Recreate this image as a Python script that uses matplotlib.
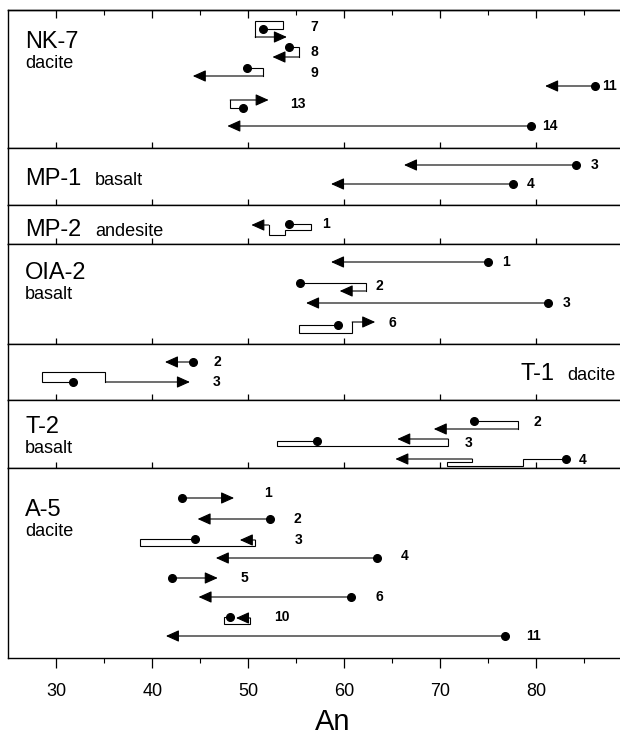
import matplotlib
matplotlib.use('Agg')
import matplotlib.pyplot as plt

plt.rcParams['font.family'] = ['Liberation Sans', 'DejaVu Sans']

# samples (panels), top to bottom
PANEL_NAMES = ['NK-7', 'MP-1', 'MP-2', 'OIA-2', 'T-1', 'T-2', 'A-5']
PANEL_ROCKS = ['dacite', 'basalt', 'andesite', 'basalt', 'dacite', 'basalt', 'dacite']
PANEL_DEPTH = [13.8, 5.7, 3.9, 10.0, 5.6, 6.8, 19.0]  # panel height, row units

# each grain: An values along the zoning path (core dot -> rim arrow),
# the row level of every vertex, and the grain number with its position
NK7_IDS = ['7', '8', '9', '11', '13', '14']
NK7_AN = [[51.5, 53.6, 53.6, 50.7, 50.7, 54.0],
          [54.2, 55.3, 55.3, 52.5],
          [49.8, 51.5, 51.5, 44.2],
          [86.1, 80.9],
          [49.4, 48.1, 48.1, 52.1],
          [79.4, 47.8]]
NK7_LEV = [[1.9, 1.9, 1.1, 1.1, 2.7, 2.7],
           [3.7, 3.7, 4.7, 4.7],
           [5.8, 5.8, 6.6, 6.6],
           [7.6, 7.6],
           [9.8, 9.8, 9.0, 9.0],
           [11.6, 11.6]]
NK7_LAB = [(56.9, 1.7), (56.9, 4.2), (56.9, 6.3), (87.6, 7.6), (55.1, 9.4), (81.4, 11.6)]

MP1_IDS = ['3', '4']
MP1_AN = [[84.1, 66.2], [77.6, 58.6]]
MP1_LEV = [[1.7, 1.7], [3.6, 3.6]]
MP1_LAB = [(86.0, 1.7), (79.4, 3.6)]

MP2_IDS = ['1']
MP2_AN = [[54.2, 56.5, 56.5, 53.8, 53.8, 52.1, 52.1, 50.3]]
MP2_LEV = [[1.9, 1.9, 2.5, 2.5, 3.0, 3.0, 2.0, 2.0]]
MP2_LAB = [(58.1, 1.9)]

OIA2_IDS = ['1', '2', '3', '6']
OIA2_AN = [[75.0, 58.6],
           [55.4, 62.2, 62.2, 59.5],
           [81.2, 56.0],
           [59.3, 55.3, 55.3, 60.8, 60.8, 63.2]]
OIA2_LEV = [[1.8, 1.8],
            [3.9, 3.9, 4.7, 4.7],
            [5.9, 5.9],
            [8.1, 8.1, 8.9, 8.9, 7.8, 7.8]]
OIA2_LAB = [(76.8, 1.8), (63.6, 4.2), (83.1, 5.9), (65.0, 7.9)]

T1_IDS = ['2', '3']
T1_AN = [[44.2, 41.3],
         [31.7, 28.5, 28.5, 35.1, 35.1, 43.9]]
T1_LEV = [[1.8, 1.8],
          [3.8, 3.8, 2.8, 2.8, 3.8, 3.8]]
T1_LAB = [(46.8, 1.8), (46.7, 3.8)]

T2_IDS = ['2', '3', '4']
T2_AN = [[73.5, 78.1, 78.1, 69.3],
         [57.1, 53.0, 53.0, 70.8, 70.8, 65.5],
         [83.1, 78.6, 78.6, 70.7, 70.7, 73.3, 73.3, 65.3]]
T2_LEV = [[2.1, 2.1, 2.9, 2.9],
          [4.1, 4.1, 4.6, 4.6, 3.9, 3.9],
          [5.9, 5.9, 6.6, 6.6, 6.2, 6.2, 5.9, 5.9]]
T2_LAB = [(80.1, 2.2), (72.9, 4.3), (84.8, 6.0)]

A5_IDS = ['1', '2', '3', '4', '5', '6', '10', '11']
A5_AN = [[43.1, 48.5],
         [52.2, 44.7],
         [44.4, 38.7, 38.7, 50.7, 50.7, 49.1],
         [63.4, 46.6],
         [42.0, 46.8],
         [60.7, 44.8],
         [48.1, 47.5, 47.5, 50.2, 50.2, 48.7],
         [76.7, 41.4]]
A5_LEV = [[3.0, 3.0],
          [5.1, 5.1],
          [7.1, 7.1, 7.8, 7.8, 7.2, 7.2],
          [9.0, 9.0],
          [11.0, 11.0],
          [12.9, 12.9],
          [14.9, 14.9, 15.6, 15.6, 15.0, 15.0],
          [16.8, 16.8]]
A5_LAB = [(52.0, 2.5), (55.1, 5.1), (55.2, 7.2), (66.3, 8.8),
          (49.6, 11.0), (63.6, 12.9), (53.5, 14.9), (79.7, 16.8)]

PANELS = [(NK7_IDS, NK7_AN, NK7_LEV, NK7_LAB),
          (MP1_IDS, MP1_AN, MP1_LEV, MP1_LAB),
          (MP2_IDS, MP2_AN, MP2_LEV, MP2_LAB),
          (OIA2_IDS, OIA2_AN, OIA2_LEV, OIA2_LAB),
          (T1_IDS, T1_AN, T1_LEV, T1_LAB),
          (T2_IDS, T2_AN, T2_LEV, T2_LAB),
          (A5_IDS, A5_AN, A5_LEV, A5_LAB)]

MAJOR = [30, 40, 50, 60, 70, 80]
MINOR = [35, 45, 55, 65, 75, 85]


def draw_grain(ax, an, lev, num, lab):
    ax.plot(an[:-1], lev[:-1], color='k', lw=0.8, solid_joinstyle='miter')
    ax.annotate('', xy=(an[-1], lev[-1]), xytext=(an[-2], lev[-2]),
                arrowprops=dict(arrowstyle='-|>,head_length=0.8,head_width=0.36',
                                color='k', lw=0.8, shrinkA=0, shrinkB=0))
    ax.plot(an[0], lev[0], 'o', color='k', ms=5.5, zorder=3)
    ax.text(lab[0], lab[1], num, fontsize=10, fontweight='bold', ha='center', va='center')


fig, axes = plt.subplots(len(PANEL_NAMES), 1, figsize=(6.2, 7.36), dpi=100,
                         gridspec_kw={'height_ratios': PANEL_DEPTH})
fig.subplots_adjust(left=8 / 620, right=1.0, top=1 - 10 / 736, bottom=1 - 658 / 736, hspace=0)

for i, ax in enumerate(axes):
    ids, an_list, lev_list, labs = PANELS[i]
    for num, an, lev, lab in zip(ids, an_list, lev_list, labs):
        draw_grain(ax, an, lev, num, lab)

    ax.set_xlim(24.95, 88.7)
    ax.set_ylim(PANEL_DEPTH[i], 0)
    ax.set_yticks([])
    ax.spines['right'].set_visible(False)
    for s in ['left', 'top', 'bottom']:
        ax.spines[s].set_linewidth(1.0)
    ax.set_xticks(MAJOR)
    last = i == len(axes) - 1
    if last:
        ax.set_xticks(MINOR, minor=True)
        ax.tick_params(axis='x', which='major', direction='out', length=7, width=0.9,
                       labelsize=13, pad=11)
        ax.tick_params(axis='x', which='minor', direction='out', length=3.5, width=0.8)
    else:
        ax.tick_params(axis='x', which='major', direction='inout', length=8, width=0.9,
                       labelbottom=False)
    if i == 0:
        top = ax.secondary_xaxis('top')
        top.set_xticks(MAJOR)
        top.set_xticks(MINOR, minor=True)
        top.tick_params(axis='x', which='major', direction='in', length=6, width=0.9,
                        labeltop=False)
        top.tick_params(axis='x', which='minor', direction='in', length=3.5, width=0.8)
        top.spines['top'].set_linewidth(1.0)

# panel titles
tr = lambda ax: ax.get_yaxis_transform()
x0 = 17 / 612
stacked = {'NK-7': (3.8, 5.8), 'OIA-2': (3.5, 5.5), 'T-2': (3.3, 5.3), 'A-5': (4.8, 6.8)}
for ax, name, rock in zip(axes, PANEL_NAMES, PANEL_ROCKS):
    if name in stacked:
        y1, y2 = stacked[name]
        ax.text(x0, y1, name, transform=tr(ax), fontsize=17, va='baseline')
        ax.text(x0, y2, rock, transform=tr(ax), fontsize=13, va='baseline')
    elif name == 'T-1':
        ax.text(0.893, 3.6, name, transform=tr(ax), fontsize=17, va='baseline', ha='right')
        ax.text(0.992, 3.6, rock, transform=tr(ax), fontsize=13, va='baseline', ha='right')
    else:
        y1 = 3.7 if name == 'MP-1' else 3.1
        ax.text(x0, y1, name, transform=tr(ax), fontsize=17, va='baseline')
        ax.text(87 / 612, y1, rock, transform=tr(ax), fontsize=13, va='baseline')

fig.text(333 / 620, 1 - 722 / 736, 'An', fontsize=21, ha='center', va='center')

fig.savefig('out.png', dpi=100)
